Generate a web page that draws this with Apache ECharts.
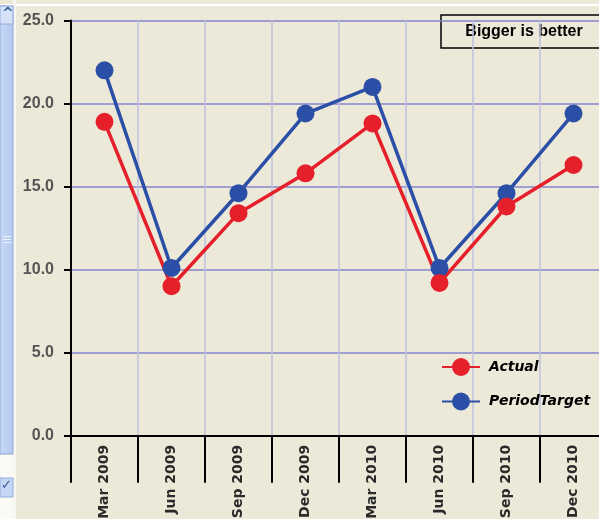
<!DOCTYPE html>
<html>
<head>
<meta charset="utf-8">
<script src="https://cdn.jsdelivr.net/npm/echarts@6/dist/echarts.min.js"></script>
<style>
  html, body { margin: 0; padding: 0; background: #ECE9D8; }
  #chart { width: 599px; height: 519px; }
</style>
</head>
<body>
<div id="chart"></div>
<script>
// Quarterly results against the period target
const quarters = ['Mar 2009', 'Jun 2009', 'Sep 2009', 'Dec 2009', 'Mar 2010', 'Jun 2010', 'Sep 2010', 'Dec 2010'];
const actual = [18.9, 9.0, 13.4, 15.8, 18.8, 9.2, 13.8, 16.3];
const periodTarget = [22.0, 10.1, 14.6, 19.4, 21.0, 10.1, 14.6, 19.4];
const yTicks = { min: 0, max: 25, step: 5 };
const note = 'Bigger is better';

const RED = '#E5202B';
const BLUE = '#2B4FA6';

const chart = echarts.init(document.getElementById('chart'), null, { renderer: 'canvas' });

chart.setOption({
  backgroundColor: '#ECE9D8',
  animation: false,
  grid: { left: 71, top: 20.5, width: 536, height: 415.2, outerBoundsMode: 'none' },
  legend: {
    orient: 'vertical',
    left: 441,
    top: 358,
    padding: 0,
    itemWidth: 38,
    itemHeight: 22.5,
    itemGap: 16.5,
    data: ['Actual', 'PeriodTarget'],
    textStyle: {
      fontFamily: 'DejaVu Sans, Verdana, sans-serif',
      fontWeight: 'bold',
      fontStyle: 'italic',
      fontSize: 14,
      color: '#000',
      padding: [0, 0, 0, 4]
    }
  },
  xAxis: {
    type: 'category',
    data: quarters,
    boundaryGap: true,
    axisLine: { lineStyle: { color: '#000', width: 2 } },
    axisTick: { show: true, interval: 0, length: 47, lineStyle: { color: '#000', width: 2 } },
    splitLine: { show: true, interval: 0, lineStyle: { color: '#C0C0E2', width: 1.5 } },
    axisLabel: {
      interval: 0,
      rotate: 90,
      margin: 9,
      fontFamily: 'DejaVu Sans, Verdana, sans-serif',
      fontWeight: 'bold',
      fontSize: 14,
      color: '#2A2A2A'
    }
  },
  yAxis: {
    type: 'value',
    min: yTicks.min,
    max: yTicks.max,
    interval: yTicks.step,
    axisLine: { show: true, lineStyle: { color: '#000', width: 2 } },
    axisTick: { show: true, length: 7, lineStyle: { color: '#000', width: 2 } },
    splitLine: { show: true, lineStyle: { color: '#8585CC', width: 1.5 } },
    axisLabel: {
      margin: 17,
      formatter: v => v.toFixed(1),
      fontFamily: 'Liberation Sans, Arial, sans-serif',
      fontWeight: 'bold',
      fontSize: 16,
      color: '#555'
    }
  },
  series: [
    {
      name: 'PeriodTarget',
      type: 'line',
      data: periodTarget,
      symbol: 'circle',
      symbolSize: 18,
      color: BLUE,
      lineStyle: { color: BLUE, width: 3.5 },
      itemStyle: { color: BLUE }
    },
    {
      name: 'Actual',
      type: 'line',
      data: actual,
      symbol: 'circle',
      symbolSize: 18,
      color: RED,
      lineStyle: { color: RED, width: 3.5 },
      itemStyle: { color: RED }
    }
  ],
  graphic: [
    // window chrome: top highlight and left scroll strip
    { type: 'rect', shape: { x: 0, y: 4, width: 599, height: 2 }, style: { fill: '#FFFFFF' }, silent: true },
    { type: 'rect', shape: { x: 13, y: 0, width: 3, height: 519 }, style: { fill: '#F8F7F0' }, silent: true },
    {
      type: 'rect', shape: { x: 0, y: 6, width: 13, height: 448 },
      style: {
        fill: new echarts.graphic.LinearGradient(0, 0, 1, 0, [
          { offset: 0, color: '#C9D9F6' }, { offset: 1, color: '#B3C7EE' }
        ]),
        stroke: '#93ACDC', lineWidth: 1
      },
      silent: true
    },
    { type: 'rect', shape: { x: 0, y: 6, width: 13, height: 18 }, style: { fill: '#D6E2F8', stroke: '#93ACDC', lineWidth: 1 }, silent: true },
    { type: 'text', left: 2, top: 7, style: { text: '^', font: 'bold 14px DejaVu Sans', fill: '#3A5A9A' }, silent: true },
    { type: 'rect', shape: { x: 3, y: 236, width: 8, height: 1 }, style: { fill: '#EEF3FD' }, silent: true },
    { type: 'rect', shape: { x: 3, y: 239, width: 8, height: 1 }, style: { fill: '#EEF3FD' }, silent: true },
    { type: 'rect', shape: { x: 3, y: 242, width: 8, height: 1 }, style: { fill: '#EEF3FD' }, silent: true },
    { type: 'rect', shape: { x: 0, y: 455, width: 13, height: 64 }, style: { fill: '#FAFAF7' }, silent: true },
    { type: 'rect', shape: { x: 0, y: 478, width: 13, height: 19 }, style: { fill: '#C5D6F5', stroke: '#93ACDC', lineWidth: 1 }, silent: true },
    { type: 'text', left: 1, top: 479, style: { text: '✓', font: 'bold 13px DejaVu Sans', fill: '#3A5A9A' }, silent: true },
    // note box in the top right corner
    {
      type: 'rect', shape: { x: 441, y: 15, width: 165, height: 33 },
      style: { fill: 'none', stroke: '#000', lineWidth: 1.5 }, silent: true
    },
    {
      type: 'text', x: 524, y: 31.5,
      style: {
        text: note, align: 'center', verticalAlign: 'middle',
        font: 'bold 16px Liberation Sans, Arial, sans-serif', fill: '#000'
      },
      silent: true
    }
  ]
});
</script>
</body>
</html>
